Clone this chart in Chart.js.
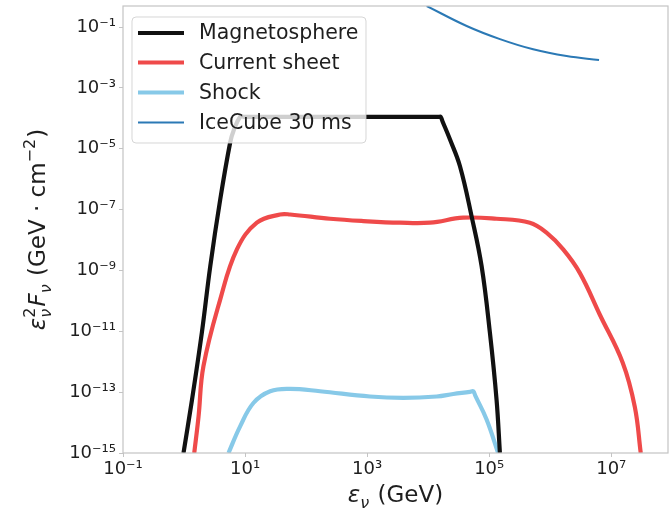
<!DOCTYPE html>
<html>
<head>
<meta charset="utf-8">
<script src="https://cdn.jsdelivr.net/npm/chart.js@4"></script>
<style>
  html, body { margin: 0; padding: 0; background: #fff; }
  #c { display: block; }
</style>
</head>
<body>
<canvas id="c" width="672" height="508"></canvas>
<script>
// ---- data ----
const seriesNames = ['Magnetosphere', 'Current sheet', 'Shock', 'IceCube 30 ms'];

const magX = [0.98, 1.35, 1.96, 2.69, 3.91, 5.7, 6.5, 8.3, 9.5, 100, 1000, 15000, 16000, 17140, 22800, 33100, 51500, 75100, 102600, 132000, 149700];
const magY = [1e-15, 5.6e-14, 9.1e-12, 1.38e-9, 2.1e-7, 1.6e-5, 4.0e-5, 1.12e-4, 1.12e-4, 1.12e-4, 1.12e-4, 1.12e-4, 1.12e-4, 8.0e-5, 2.0e-5, 2.7e-6, 6.0e-8, 1.38e-9, 9.1e-12, 5.6e-14, 1e-15];

const csX = [1.47, 1.73, 2.08, 3.91, 7.35, 15.6, 37.5, 54.7, 247, 867, 3450, 10700, 37500, 132000, 463000, 869000, 1.63e6, 3.05e6, 6.5e6, 1.54e7, 2.43e7, 3.04e7];
const csY = [1e-15, 1.6e-14, 7.1e-13, 1.1e-10, 4.9e-9, 3.7e-8, 6.9e-8, 6.9e-8, 5.0e-8, 4.2e-8, 3.7e-8, 3.7e-8, 5.4e-8, 5.0e-8, 3.7e-8, 1.74e-8, 4.9e-9, 8.3e-10, 3.5e-11, 9.3e-13, 3.3e-14, 1e-15];

const shX = [5.35, 8.3, 13.7, 25.8, 54.7, 169, 1110, 3910, 13800, 25800, 48300, 54700, 59400, 90600, 140000];
const shY = [1e-15, 7.5e-15, 4.4e-14, 1.07e-13, 1.28e-13, 1.07e-13, 7.2e-14, 6.5e-14, 7.2e-14, 8.7e-14, 1.02e-13, 1.07e-13, 7.5e-14, 1.26e-14, 1e-15];

const icX = [9450, 42700, 150000, 525000, 1.85e6, 6.3e6];
const icY = [0.49, 0.108, 0.040, 0.0185, 0.0111, 0.0082];

const xTicks = [1e-1, 1e1, 1e3, 1e5, 1e7];
const yTicks = [1e-15, 1e-13, 1e-11, 1e-9, 1e-7, 1e-5, 1e-3, 1e-1];

// ---- helpers ----
const SUP = {'-': '⁻', '0': '⁰', '1': '¹', '2': '²', '3': '³', '4': '⁴', '5': '⁵', '6': '⁶', '7': '⁷', '8': '⁸', '9': '⁹'};
function powLabel(v) {
  const e = Math.round(Math.log10(v));
  return '10' + String(e).split('').map(c => SUP[c]).join('');
}
function pts(xs, ys) { return xs.map((x, i) => ({x: x, y: ys[i]})); }

const FONT = "'DejaVu Sans', sans-serif";
const TXT = '#1e1e1e';
const FRAME = '#c4c4c4';

// rich (math-like) text drawing
function partFont(p, base) {
  const size = (p.k === 'sup' || p.k === 'sub' || p.k === 'ss') ? Math.round(base * 0.7) : base;
  const it = p.i ? 'italic ' : '';
  return it + size + 'px ' + FONT;
}
function partWidth(ctx, p, base) {
  ctx.font = partFont(p, base);
  if (p.k === 'ss') return Math.max(ctx.measureText(p.t[0]).width, ctx.measureText(p.t[1]).width) + 1;
  return ctx.measureText(p.t).width + (p.k === 'sup' || p.k === 'sub' ? 1 : 0);
}
function drawRich(ctx, parts, cx, baseY, base) {
  let total = 0;
  parts.forEach(p => total += partWidth(ctx, p, base));
  let x = cx - total / 2;
  ctx.textAlign = 'left';
  ctx.textBaseline = 'alphabetic';
  ctx.fillStyle = TXT;
  parts.forEach(p => {
    const w = partWidth(ctx, p, base);
    ctx.font = partFont(p, base);
    if (p.k === 'ss') {
      ctx.font = Math.round(base * 0.7) + 'px ' + FONT;
      ctx.fillText(p.t[0], x, baseY - base * 0.42);
      ctx.font = 'italic ' + Math.round(base * 0.7) + 'px ' + FONT;
      ctx.fillText(p.t[1], x, baseY + base * 0.25);
    } else if (p.k === 'sup') {
      ctx.fillText(p.t, x, baseY - base * 0.42);
    } else if (p.k === 'sub') {
      ctx.fillText(p.t, x, baseY + base * 0.25);
    } else {
      ctx.fillText(p.t, x, baseY);
    }
    x += w;
  });
}

const yTitleParts = [
  {k: 'n', i: true, t: 'ε'}, {k: 'ss', t: ['2', 'ν']}, {k: 'n', i: true, t: 'F'}, {k: 'sub', i: true, t: 'ν'},
  {k: 'n', t: ' (GeV · cm'}, {k: 'sup', t: '−2'}, {k: 'n', t: ')'}
];
const xTitleParts = [
  {k: 'n', i: true, t: 'ε'}, {k: 'sub', i: true, t: 'ν'}, {k: 'n', t: ' (GeV)'}
];

const decorPlugin = {
  id: 'decor',
  afterDatasetsDraw(chart) {
    const ctx = chart.ctx;
    const a = chart.chartArea;
    ctx.save();
    // frame
    ctx.strokeStyle = FRAME;
    ctx.lineWidth = 1.2;
    ctx.strokeRect(a.left, a.top, a.right - a.left, a.bottom - a.top);
    // legend
    const lx = 132, ly = 17, lw = 234, lh = 126, r = 4;
    ctx.beginPath();
    ctx.moveTo(lx + r, ly);
    ctx.arcTo(lx + lw, ly, lx + lw, ly + lh, r);
    ctx.arcTo(lx + lw, ly + lh, lx, ly + lh, r);
    ctx.arcTo(lx, ly + lh, lx, ly, r);
    ctx.arcTo(lx, ly, lx + lw, ly, r);
    ctx.closePath();
    ctx.fillStyle = 'rgba(255,255,255,0.8)';
    ctx.fill();
    ctx.strokeStyle = 'rgba(204,204,204,0.8)';
    ctx.lineWidth = 1;
    ctx.stroke();
    const rows = [33, 62.5, 92.5, 122.5];
    chart.data.datasets.forEach((ds, i) => {
      const y = rows[i];
      ctx.beginPath();
      ctx.moveTo(138, y);
      ctx.lineTo(184, y);
      ctx.strokeStyle = ds.borderColor;
      ctx.lineWidth = ds.borderWidth;
      ctx.lineCap = 'butt';
      ctx.stroke();
      ctx.fillStyle = TXT;
      ctx.font = '20.5px ' + FONT;
      ctx.textAlign = 'left';
      ctx.textBaseline = 'middle';
      ctx.fillText(ds.label, 199, y + 1);
    });
    ctx.restore();
  },
  afterDraw(chart) {
    const ctx = chart.ctx;
    const a = chart.chartArea;
    ctx.save();
    drawRich(ctx, xTitleParts, (a.left + a.right) / 2, 502, 23);
    ctx.translate(37, (a.top + a.bottom) / 2);
    ctx.rotate(-Math.PI / 2);
    drawRich(ctx, yTitleParts, 0, 8, 23);
    ctx.restore();
  }
};

new Chart(document.getElementById('c'), {
  type: 'line',
  data: {
    datasets: [
      {label: seriesNames[0], data: pts(magX, magY), borderColor: '#111111', borderWidth: 4.2},
      {label: seriesNames[1], data: pts(csX, csY), borderColor: '#ef4a4a', borderWidth: 4.2},
      {label: seriesNames[2], data: pts(shX, shY), borderColor: '#87c9e8', borderWidth: 4.2},
      {label: seriesNames[3], data: pts(icX, icY), borderColor: '#2b79b5', borderWidth: 2}
    ]
  },
  options: {
    responsive: false,
    animation: false,
    devicePixelRatio: 1,
    datasets: {
      line: {pointRadius: 0, fill: false, tension: 0.4, borderJoinStyle: 'round', borderCapStyle: 'butt'}
    },
    layout: {padding: {top: 6, right: 4, left: 0, bottom: 0}},
    plugins: {legend: {display: false}, tooltip: {enabled: false}, title: {display: false}},
    scales: {
      x: {
        type: 'logarithmic',
        min: 0.1, max: 8.5e7,
        afterBuildTicks: s => { s.ticks = xTicks.map(v => ({value: v})); },
        afterFit: s => { s.height = 55; s.paddingLeft = 0; s.paddingRight = 0; },
        grid: {drawOnChartArea: false, drawTicks: true, tickLength: 4, color: FRAME},
        border: {display: false},
        ticks: {
          autoSkip: false, maxRotation: 0, padding: 2, color: TXT,
          font: {family: FONT, size: 18},
          callback: v => powLabel(v)
        }
      },
      y: {
        type: 'logarithmic',
        min: 1e-15, max: 0.49,
        afterBuildTicks: s => { s.ticks = yTicks.map(v => ({value: v})); },
        afterFit: s => { s.width = 123; s.paddingTop = 0; s.paddingBottom = 0; },
        grid: {drawOnChartArea: false, drawTicks: true, tickLength: 4, color: FRAME},
        border: {display: false},
        ticks: {
          autoSkip: false, padding: 3, color: TXT,
          font: {family: FONT, size: 18},
          callback: v => powLabel(v)
        }
      }
    }
  },
  plugins: [decorPlugin]
});
</script>
</body>
</html>
